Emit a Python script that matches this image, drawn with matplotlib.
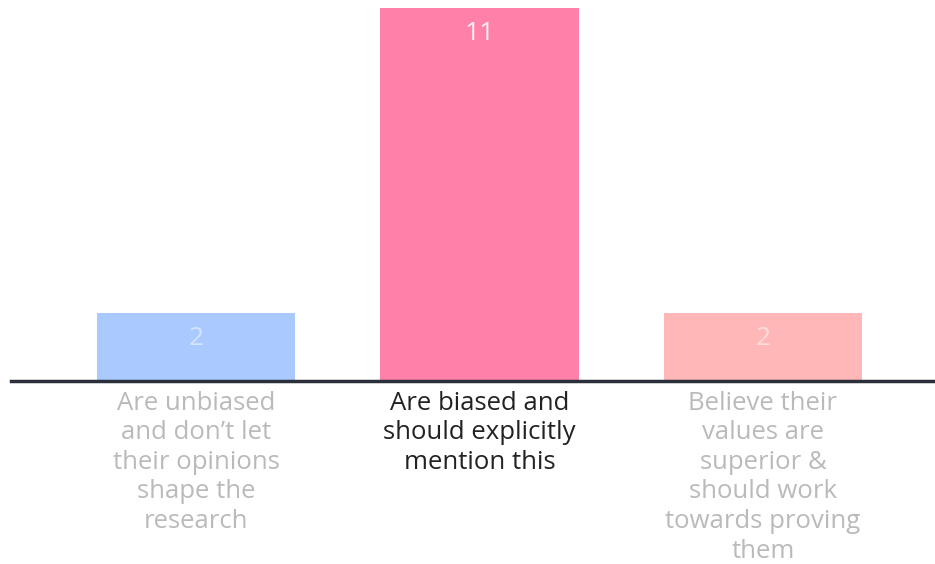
import numpy as np
import matplotlib.pyplot as plt

labels = ["Are unbiased\nand don\u2019t let\ntheir opinions\nshape the\nresearch",
          "Are biased and\nshould explicitly\nmention this",
          "Believe their\nvalues are\nsuperior &\nshould work\ntowards proving\nthem"]
values = [2, 11, 2]
colors = ["#aac9ff", "#ff80a9", "#ffb8b7"]
label_colors = ["#bababa", "#222222", "#bababa"]

fig = plt.figure(figsize=(9.35, 5.64), dpi=100)
ax = fig.add_axes([11 / 935, (564 - 381) / 564, 924 / 935, 373 / 564])

x = np.arange(len(values))
bars = ax.bar(x, values, width=0.7, color=colors)

ax.set_xlim(-0.6526, 2.607)
ax.set_ylim(0, 11)

for xi, v in zip(x, values):
    ax.annotate(str(v), (xi, v), xytext=(0, -18.5), textcoords="offset points",
                ha="center", va="center", fontsize=19, color="white",
                alpha=0.9 if v > 5 else 0.5, family="Open Sans")

for xi, lab, c in zip(x, labels, label_colors):
    ax.annotate(lab, (xi, 0), xytext=(0, -7), textcoords="offset points",
                ha="center", va="top", fontsize=18.5, color=c,
                linespacing=1.24, family="Open Sans")

for s in ["top", "right", "left"]:
    ax.spines[s].set_visible(False)
ax.spines["bottom"].set_color("#2b2f3a")
ax.spines["bottom"].set_linewidth(2.5)
ax.set_xticks([])
ax.set_yticks([])

fig.savefig("out.png", dpi=100)
